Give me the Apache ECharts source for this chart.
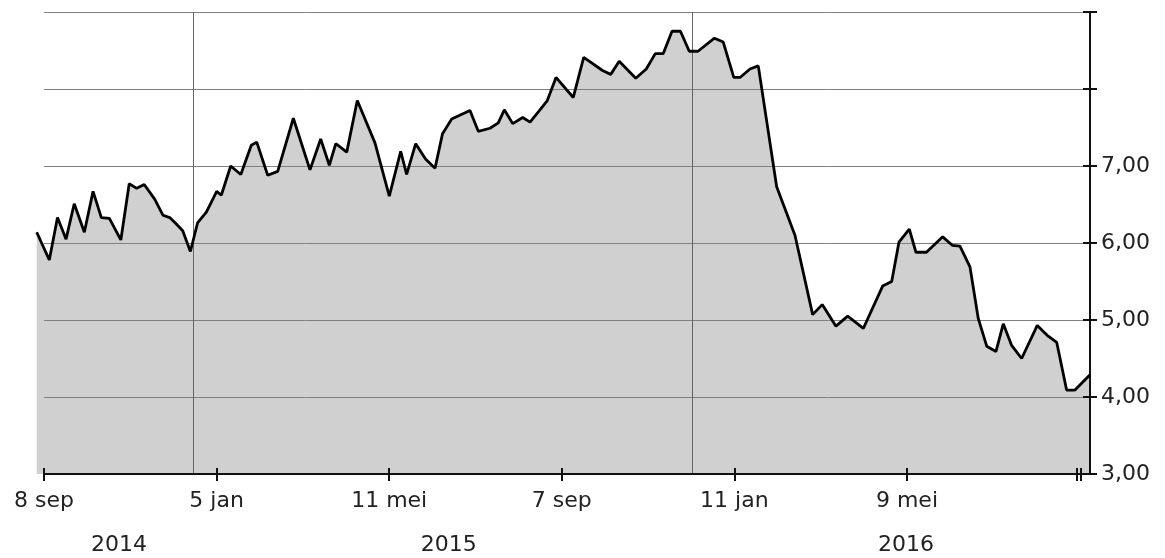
<!DOCTYPE html>
<html>
<head>
<meta charset="utf-8">
<script src="https://cdn.jsdelivr.net/npm/echarts@6/dist/echarts.min.js"></script>
<style>
  html, body { margin: 0; padding: 0; background: #fff; }
  #koers { width: 1165px; height: 558px; }
</style>
</head>
<body>
<div id="koers"></div>
<script>
// tick labels on the time axis (axis unit = plotted weeks, 0 = 8 sep 2014)
const xLabels = ['8 sep', '5 jan', '11 mei', '7 sep', '11 jan', '9 mei'];
const xTickPos = [0, 20, 40, 60, 80, 100];
const endTicks = [119.7, 120.1];
const years = ['2014', '2015', '2016'];
const yearPos = [8.7, 46.9, 99.9];
const yearBreaks = [17.3, 75.1];

// koers readings
const weekPos = [
  -0.85, 0.61, 1.56, 2.55, 3.5, 4.67, 5.68, 6.64, 7.57, 8.9,
  9.87, 10.74, 11.61, 12.82, 13.79, 14.57, 15.3, 16.07, 16.96, 17.79,
  18.81, 20.01, 20.54, 21.63, 22.8, 24.02, 24.65, 25.92, 27.08, 28.89,
  30.82, 32.06, 33.06, 33.81, 35.08, 36.3, 38.35, 40.01, 41.33, 42.02,
  43.07, 44.21, 45.31, 46.18, 47.24, 49.36, 50.32, 51.68, 52.64, 53.34,
  54.31, 55.47, 56.32, 57.33, 58.32, 59.33, 61.33, 62.54, 64.72, 65.67,
  66.65, 68.57, 69.79, 70.83, 71.76, 72.77, 73.75, 74.77, 75.78, 77.69,
  78.71, 79.93, 80.65, 81.81, 82.77, 84.9, 87.02, 89.07, 90.18, 91.77,
  93.13, 94.94, 97.18, 98.23, 99.07, 100.27, 101.04, 102.26, 104.14, 105.25,
  106.14, 107.3, 108.26, 109.24, 110.31, 111.16, 112.13, 113.29, 115.1, 116.37,
  117.35, 118.5, 119.47, 121.21
];
const koers = [
  6.14, 5.78, 6.33, 6.05, 6.51, 6.14, 6.67, 6.33, 6.32, 6.04,
  6.77, 6.71, 6.76, 6.57, 6.36, 6.33, 6.25, 6.16, 5.89, 6.26,
  6.40, 6.67, 6.62, 7.00, 6.89, 7.27, 7.31, 6.88, 6.93, 7.62,
  6.95, 7.35, 7.01, 7.29, 7.18, 7.85, 7.30, 6.61, 7.19, 6.89,
  7.29, 7.09, 6.97, 7.42, 7.61, 7.72, 7.45, 7.49, 7.56, 7.73,
  7.55, 7.63, 7.57, 7.71, 7.85, 8.15, 7.89, 8.41, 8.24, 8.19,
  8.36, 8.14, 8.26, 8.46, 8.46, 8.75, 8.75, 8.49, 8.49, 8.66,
  8.61, 8.15, 8.15, 8.26, 8.30, 6.73, 6.10, 5.07, 5.20, 4.92,
  5.05, 4.89, 5.44, 5.50, 6.01, 6.18, 5.88, 5.88, 6.08, 5.97,
  5.96, 5.69, 5.02, 4.66, 4.59, 4.95, 4.67, 4.50, 4.93, 4.79,
  4.71, 4.09, 4.09, 4.29
];

const points = weekPos.map((x, i) => [x, koers[i]]);
const font = 'DejaVu Sans';

const chart = echarts.init(document.getElementById('koers'));
chart.setOption({
  animation: false,
  backgroundColor: '#fff',
  grid: [
    { left: 44, right: 75, top: 12, bottom: 84 },
    { left: 36.7, right: 75, top: 12, bottom: 84 }
  ],
  xAxis: [
    {
      gridIndex: 0, type: 'value', min: 0, max: 121.21, position: 'bottom', z: 2,
      axisLine: { onZero: false, lineStyle: { color: '#111', width: 2 } },
      axisTick: { customValues: xTickPos.concat(endTicks), length: 7, lineStyle: { color: '#111', width: 2 } },
      axisLabel: {
        customValues: xTickPos,
        formatter: v => xLabels[xTickPos.indexOf(v)],
        fontSize: 22, fontFamily: font, color: '#222', margin: 16
      },
      splitLine: { show: false }
    },
    {
      gridIndex: 0, type: 'value', min: 0, max: 121.21, position: 'bottom', z: 2,
      axisLine: { show: false, onZero: false },
      axisTick: { inside: true, customValues: xTickPos.concat(endTicks), length: 6, lineStyle: { color: '#111', width: 2 } },
      axisLabel: { show: false },
      splitLine: { show: false }
    },
    {
      gridIndex: 0, type: 'value', min: 0, max: 121.21, position: 'bottom',
      axisLine: { show: false, onZero: false },
      axisTick: { show: false },
      axisLabel: {
        customValues: yearPos,
        formatter: v => years[yearPos.indexOf(v)],
        fontSize: 22, fontFamily: font, color: '#222', margin: 60
      },
      splitLine: { show: false }
    },
    { gridIndex: 1, type: 'value', min: -0.85, max: 121.21, show: false }
  ],
  yAxis: [
    {
      gridIndex: 0, type: 'value', min: 3, max: 9, interval: 1, position: 'right', z: 2,
      axisLine: { show: true, onZero: false, lineStyle: { color: '#111', width: 2 } },
      axisTick: { show: true, length: 7, lineStyle: { color: '#111', width: 2 } },
      axisLabel: {
        formatter: v => (v <= 7 ? v.toFixed(2).replace('.', ',') : ''),
        fontSize: 22, fontFamily: font, color: '#222', margin: 11
      },
      splitLine: { show: true, lineStyle: { color: '#808080', width: 1 } }
    },
    {
      gridIndex: 0, type: 'value', min: 3, max: 9, interval: 1, position: 'right', z: 2,
      axisLine: { show: false, onZero: false },
      axisTick: { show: true, inside: true, length: 7, lineStyle: { color: '#111', width: 2 } },
      axisLabel: { show: false },
      splitLine: { show: false }
    },
    { gridIndex: 1, type: 'value', min: 3, max: 9, show: false }
  ],
  series: [
    {
      type: 'line', xAxisIndex: 3, yAxisIndex: 2, z: 1,
      data: points, symbol: 'none',
      lineStyle: { width: 0 },
      areaStyle: { color: '#d0d0d0', opacity: 1, origin: 'start' },
      markLine: {
        silent: true, symbol: 'none', z: 2,
        label: { show: false },
        lineStyle: { color: '#666', width: 1, type: 'solid' },
        data: yearBreaks.map(x => ({ xAxis: x }))
      }
    },
    {
      type: 'line', xAxisIndex: 3, yAxisIndex: 2, z: 3,
      data: points, symbol: 'none',
      lineStyle: { color: '#000', width: 2.8 }
    }
  ]
});
</script>
</body>
</html>
